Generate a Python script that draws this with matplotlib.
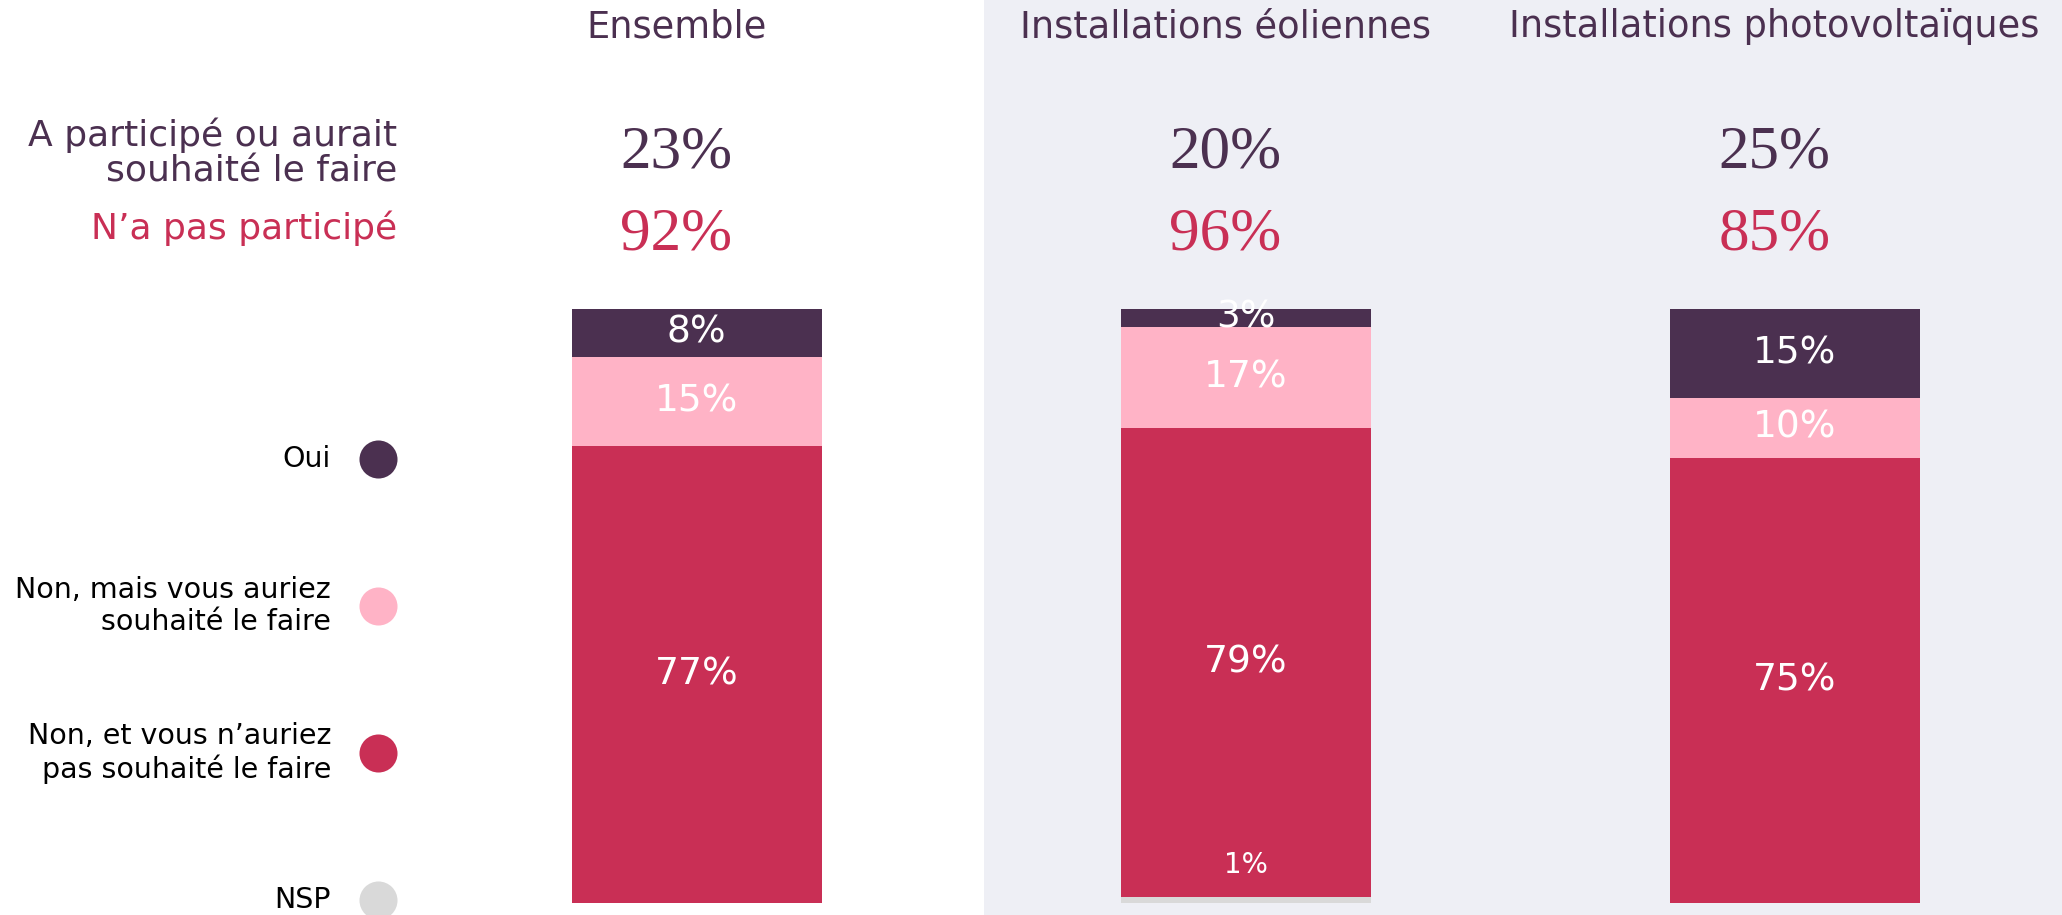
import matplotlib.pyplot as plt
from matplotlib.patches import Rectangle

# === Data ===
categories = ['Ensemble', 'Installations éoliennes', 'Installations photovoltaïques']
oui = [8, 3, 15]
non_mais = [15, 17, 10]
non_et = [77, 79, 75]
nsp = [0, 1, 0]
participe = [23, 20, 25]
pas_participe = [92, 96, 85]

series_names = ['Oui', 'Non, mais vous auriez\nsouhaité le faire',
                'Non, et vous n’auriez\npas souhaité le faire', 'NSP']
series_colors = ['#4B3050', '#FFB3C6', '#C92F55', '#D9D9D9']

PURPLE = '#4B3050'
CRIMSON = '#C92F55'
SANS = 'DejaVu Sans'
SERIF = 'Liberation Serif'

W, H = 2062, 915

# === Figure / background panel ===
fig = plt.figure(figsize=(W / 100, H / 100), dpi=100)
fig.patches.append(Rectangle((984 / W, 0), 1 - 984 / W, 1, transform=fig.transFigure,
                             facecolor='#EEEFF5', edgecolor='none', zorder=-5))

# bar axes: one column per category, y in percent (0 at top of the bars)
ax = fig.add_axes([0, 0, 1, 1])
ax.patch.set_alpha(0)
col_px = 549.0
x0_px = 696.5
ax.set_xlim(-x0_px / col_px, (W - x0_px) / col_px)
pct_px = (903 - 309) / 100.0
ax.set_ylim(100 + (H - 903) / pct_px, -309 / pct_px)
ax.axis('off')

# layout axes in pixel units for text and legend
lay = fig.add_axes([0, 0, 1, 1])
lay.patch.set_alpha(0)
lay.set_xlim(0, W)
lay.set_ylim(H, 0)
lay.axis('off')

# === Stacked bars ===
xs = list(range(len(categories)))
bottom = [0] * len(categories)
for vals, c in zip([oui, non_mais, non_et, nsp], series_colors):
    ax.bar(xs, vals, bottom=bottom, width=250 / col_px, color=c, linewidth=0)
    bottom = [b + v for b, v in zip(bottom, vals)]

# labels inside the bars
bottom = [0] * len(categories)
for k, vals in enumerate([oui, non_mais, non_et, nsp]):
    for i, v in enumerate(vals):
        if v > 0:
            if k == 3:
                # NSP too thin: label sits inside the red segment
                ax.text(i, bottom[i] - 5.4, f'{v}%', ha='center', va='center',
                        color='white', fontsize=20, family=SANS)
            else:
                ax.text(i, bottom[i] + v / 2, f'{v}%', ha='center', va='center',
                        color='white', fontsize=27, family=SANS)
    bottom = [b + v for b, v in zip(bottom, vals)]

# === Column headers and summary numbers ===
for i, cat in enumerate(categories):
    xc = x0_px + i * col_px - 20
    lay.text(xc, 37, cat, ha='center', va='baseline', color=PURPLE,
             fontsize=26.5, family=SANS)
    lay.text(xc, 167, f'{participe[i]}%', ha='center', va='baseline',
             color=PURPLE, fontsize=44, family=SERIF)
    lay.text(xc, 250, f'{pas_participe[i]}%', ha='center', va='baseline',
             color=CRIMSON, fontsize=44, family=SERIF)

lay.text(397, 181, 'A participé ou aurait\nsouhaité le faire', ha='right', va='baseline',
         color=PURPLE, fontsize=26, family=SANS, linespacing=1.05)
lay.text(397, 239, 'N’a pas participé', ha='right', va='baseline',
         color=CRIMSON, fontsize=26, family=SANS)

# === Legend ===
for i, (name, c) in enumerate(zip(series_names, series_colors)):
    yc = 459 + 147 * i
    lay.scatter([378], [yc], s=750, color=c, linewidths=0, clip_on=False)
    lay.text(331, yc, name, ha='right', va='center', color='black',
             fontsize=20.5, family=SANS, linespacing=1.15, multialignment='right')

plt.savefig('out.png', dpi=100)
